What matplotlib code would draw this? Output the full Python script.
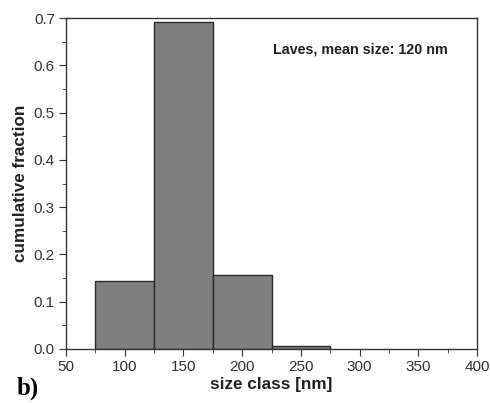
import matplotlib

matplotlib.use("Agg")

import matplotlib.pyplot as plt
from matplotlib.ticker import MultipleLocator

# size classes (bin left edges, nm) and fraction of particles in each
bin_left = [75, 125, 175, 225]
bin_width = 50
fraction = [0.144, 0.691, 0.156, 0.006]

plt.rcParams["font.family"] = ["Liberation Sans", "DejaVu Sans"]

fig = plt.figure(figsize=(4.9, 4.03), dpi=100)
ax = fig.add_axes([0.1347, 0.134, 0.8388, 0.821])

ax.bar(bin_left, fraction, width=bin_width, align="edge",
       color="#7f7f7f", edgecolor="#2a2a2a", linewidth=1.0)

ax.set_xlim(50, 400)
ax.set_ylim(0, 0.7)
ax.xaxis.set_major_locator(MultipleLocator(50))
ax.xaxis.set_minor_locator(MultipleLocator(25))
ax.yaxis.set_major_locator(MultipleLocator(0.1))
ax.yaxis.set_minor_locator(MultipleLocator(0.05))
ax.tick_params(which="both", direction="out", top=False, right=False,
               labelsize=11, color="#333333", labelcolor="#333333")
ax.tick_params(which="major", length=5, pad=3)
ax.tick_params(which="minor", length=3)
for spine in ax.spines.values():
    spine.set_color("#333333")
    spine.set_linewidth(1.0)

ax.set_xlabel("size class [nm]", fontsize=12.3, fontweight="bold", labelpad=2,
              color="#222222")
ax.set_ylabel("cumulative fraction", fontsize=12.3, fontweight="bold", labelpad=4,
              color="#222222")

ax.text(0.715, 0.905, "Laves, mean size: 120 nm", transform=ax.transAxes,
        ha="center", va="center", fontsize=10.3, fontweight="bold",
        color="#222222")

fig.text(0.035, 0.022, "b)", fontsize=18, fontweight="bold",
         family=["Liberation Serif", "DejaVu Serif"])

fig.savefig("out.png", dpi=100)
